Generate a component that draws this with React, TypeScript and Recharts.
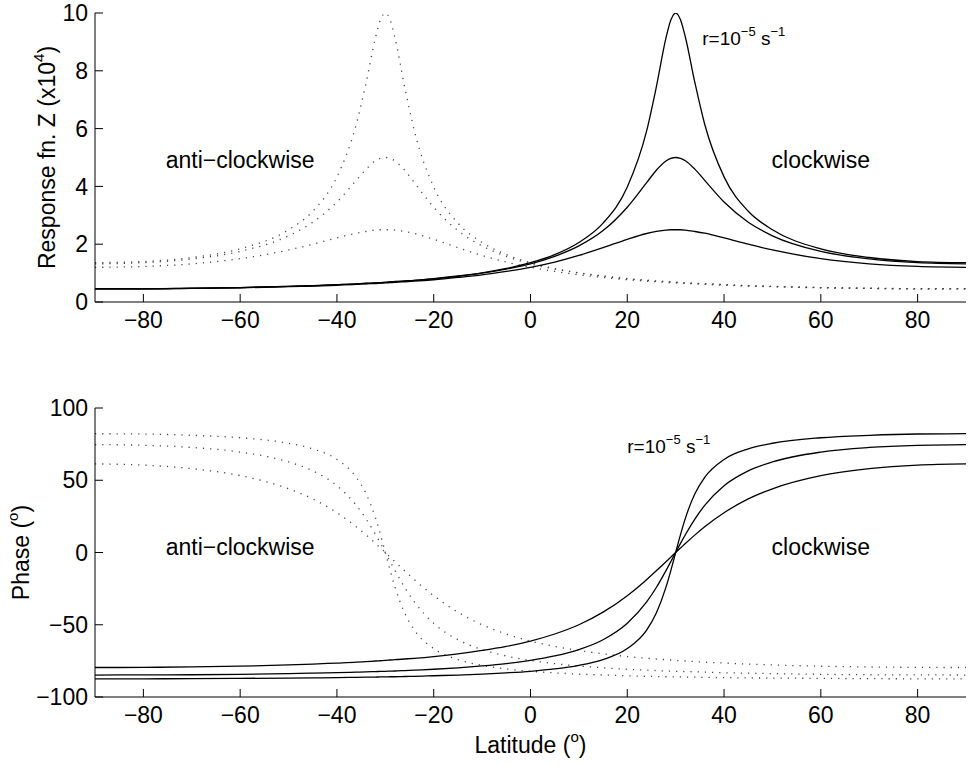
import { LineChart, Line, XAxis, YAxis, ReferenceDot, Label } from "recharts"

// latitudes (deg) the curves are sampled at
const lat = [
  -90, -80, -70, -60, -50, -45, -40, -36, -34, -32, -31, -30, -29, -28, -26, -24, -20, -15, -10, -5, 0, 5, 10, 15, 20,
  24, 26, 28, 29, 30, 31, 32, 34, 36, 40, 45, 50, 60, 70, 80, 90,
]

// response fn Z (x10^4), clockwise (solid)
const zCw1 = [
  0.46, 0.46, 0.48, 0.5, 0.54, 0.57, 0.6, 0.63, 0.65, 0.66, 0.67, 0.68, 0.7, 0.71, 0.73, 0.75, 0.81, 0.9, 1.01, 1.16, 1.36,
  1.64, 2.06, 2.73, 3.98, 5.92, 7.44, 9.14, 9.76, 10.0, 9.77, 9.17, 7.57, 6.15, 4.33, 3.14, 2.5, 1.84, 1.54, 1.4, 1.36,
]
const zCw2 = [
  0.46, 0.46, 0.47, 0.5, 0.54, 0.56, 0.6, 0.63, 0.64, 0.66, 0.67, 0.68, 0.69, 0.7, 0.72, 0.75, 0.8, 0.89, 1.0, 1.14, 1.32,
  1.58, 1.94, 2.47, 3.28, 4.13, 4.56, 4.88, 4.97, 5.0, 4.97, 4.89, 4.59, 4.21, 3.46, 2.76, 2.29, 1.75, 1.49, 1.36, 1.32,
]
const zCw3 = [
  0.45, 0.45, 0.47, 0.49, 0.53, 0.55, 0.58, 0.61, 0.63, 0.64, 0.65, 0.66, 0.67, 0.68, 0.7, 0.72, 0.77, 0.85, 0.94, 1.06,
  1.2, 1.38, 1.61, 1.88, 2.17, 2.37, 2.44, 2.49, 2.5, 2.5, 2.5, 2.49, 2.44, 2.38, 2.22, 2.0, 1.8, 1.5, 1.32, 1.23, 1.2,
]

// response fn Z (x10^4), anti-clockwise (dotted)
const zAcw1 = [
  1.36, 1.4, 1.54, 1.84, 2.5, 3.14, 4.33, 6.15, 7.57, 9.17, 9.77, 10.0, 9.76, 9.14, 7.44, 5.92, 3.98, 2.73, 2.06, 1.64,
  1.36, 1.16, 1.01, 0.9, 0.81, 0.75, 0.73, 0.71, 0.7, 0.68, 0.67, 0.66, 0.65, 0.63, 0.6, 0.57, 0.54, 0.5, 0.48, 0.46, 0.46,
]
const zAcw2 = [
  1.32, 1.36, 1.49, 1.75, 2.29, 2.76, 3.46, 4.21, 4.59, 4.89, 4.97, 5.0, 4.97, 4.88, 4.56, 4.13, 3.28, 2.47, 1.94, 1.58,
  1.32, 1.14, 1.0, 0.89, 0.8, 0.75, 0.72, 0.7, 0.69, 0.68, 0.67, 0.66, 0.64, 0.63, 0.6, 0.56, 0.54, 0.5, 0.47, 0.46, 0.46,
]
const zAcw3 = [
  1.2, 1.23, 1.32, 1.5, 1.8, 2.0, 2.22, 2.38, 2.44, 2.49, 2.5, 2.5, 2.5, 2.49, 2.44, 2.37, 2.17, 1.88, 1.61, 1.38, 1.2,
  1.06, 0.94, 0.85, 0.77, 0.72, 0.7, 0.68, 0.67, 0.66, 0.65, 0.64, 0.63, 0.61, 0.58, 0.55, 0.53, 0.49, 0.47, 0.45, 0.45,
]

// phase (deg), clockwise (solid)
const pCw1 = [
  -87.4, -87.4, -87.3, -87.1, -86.9, -86.8, -86.6, -86.4, -86.3, -86.2, -86.1, -86.1, -86.0, -86.0, -85.8, -85.7, -85.3,
  -84.8, -84.2, -83.3, -82.2, -80.6, -78.1, -74.1, -66.5, -53.7, -41.9, -24.0, -12.5, 0, 12.4, 23.6, 40.8, 52.0, 64.4,
  71.7, 75.6, 79.4, 81.1, 82.0, 82.2,
]
const pCw2 = [
  -84.8, -84.7, -84.6, -84.3, -83.8, -83.5, -83.2, -82.8, -82.6, -82.4, -82.3, -82.2, -82.1, -82.0, -81.7, -81.4, -80.8,
  -79.8, -78.5, -76.9, -74.7, -71.6, -67.2, -60.4, -49.0, -34.2, -24.2, -12.5, -6.3, 0, 6.3, 12.3, 23.3, 32.6, 46.2, 56.5,
  62.7, 69.5, 72.7, 74.2, 74.7,
]
const pCw3 = [
  -79.6, -79.5, -79.2, -78.7, -77.8, -77.2, -76.5, -75.9, -75.5, -75.1, -74.9, -74.7, -74.4, -74.2, -73.7, -73.2, -72.0,
  -70.1, -67.8, -65.0, -61.3, -56.4, -50.0, -41.3, -29.9, -18.8, -12.7, -6.4, -3.2, 0, 3.1, 6.2, 12.2, 17.8, 27.5, 37.1,
  44.1, 53.2, 58.0, 60.5, 61.3,
]

// phase (deg), anti-clockwise (dotted)
const pAcw1 = [
  82.2, 82.0, 81.1, 79.4, 75.6, 71.7, 64.4, 52.0, 40.8, 23.6, 12.4, 0, -12.5, -24.0, -41.9, -53.7, -66.5, -74.1, -78.1,
  -80.6, -82.2, -83.3, -84.2, -84.8, -85.3, -85.7, -85.8, -86.0, -86.0, -86.1, -86.1, -86.2, -86.3, -86.4, -86.6, -86.8,
  -86.9, -87.1, -87.3, -87.4, -87.4,
]
const pAcw2 = [
  74.7, 74.2, 72.7, 69.5, 62.7, 56.5, 46.2, 32.6, 23.3, 12.3, 6.3, 0, -6.3, -12.5, -24.2, -34.2, -49.0, -60.4, -67.2,
  -71.6, -74.7, -76.9, -78.5, -79.8, -80.8, -81.4, -81.7, -82.0, -82.1, -82.2, -82.3, -82.4, -82.6, -82.8, -83.2, -83.5,
  -83.8, -84.3, -84.6, -84.7, -84.8,
]
const pAcw3 = [
  61.3, 60.5, 58.0, 53.2, 44.1, 37.1, 27.5, 17.8, 12.2, 6.2, 3.1, 0, -3.2, -6.4, -12.7, -18.8, -29.9, -41.3, -50.0,
  -56.4, -61.3, -65.0, -67.8, -70.1, -72.0, -73.2, -73.7, -74.2, -74.4, -74.7, -74.9, -75.1, -75.5, -75.9, -76.5, -77.2,
  -77.8, -78.7, -79.2, -79.5, -79.6,
]

const xTicks = [-80, -60, -40, -20, 0, 20, 40, 60, 80]
const zTicks = [0, 2, 4, 6, 8, 10]
const phaseTicks = [-100, -50, 0, 50, 100]

const FONT = '"Liberation Sans", Arial, Helvetica, sans-serif'
const tickStyle = { fill: "#000", fontSize: 23, fontFamily: FONT }
const fmt = (v: number) => String(v).replace("-", "\u2212")

const zData = lat.map((x, i) => ({
  lat: x,
  cw1: zCw1[i],
  cw2: zCw2[i],
  cw3: zCw3[i],
  acw1: zAcw1[i],
  acw2: zAcw2[i],
  acw3: zAcw3[i],
}))

const phaseData = lat.map((x, i) => ({
  lat: x,
  cw1: pCw1[i],
  cw2: pCw2[i],
  cw3: pCw3[i],
  acw1: pAcw1[i],
  acw2: pAcw2[i],
  acw3: pAcw3[i],
}))

const solidKeys = ["cw1", "cw2", "cw3"]
const dottedKeys = ["acw1", "acw2", "acw3"]

function curves() {
  return [
    ...dottedKeys.map((k) => (
      <Line
        key={k}
        dataKey={k}
        type="monotone"
        stroke="#444"
        strokeWidth={1.3}
        strokeDasharray="1.2 6"
        dot={false}
        isAnimationActive={false}
      />
    )),
    ...solidKeys.map((k) => (
      <Line key={k} dataKey={k} type="monotone" stroke="#000" strokeWidth={1.3} dot={false} isAnimationActive={false} />
    )),
  ]
}

// plain text placed at a data point
const word = (text: string) => (props: any) => (
  <text
    x={props.cx}
    y={props.cy}
    textAnchor="middle"
    dominantBaseline="central"
    fontSize={23}
    fontFamily={FONT}
    fill="#000"
  >
    {text}
  </text>
)

const rLabel = (props: any) => (
  <text x={props.cx} y={props.cy} fontSize={19} fontFamily={FONT} fill="#000">
    r=10
    <tspan dy={-9} fontSize={13}>
      −5
    </tspan>
    <tspan dy={9}> s</tspan>
    <tspan dy={-9} fontSize={13}>
      −1
    </tspan>
  </text>
)

const yTitle = (text: string, sup: string, offsetX: number) => (props: any) => {
  const vb = props.viewBox
  const cx = vb.x + offsetX
  const cy = vb.y + vb.height / 2
  return (
    <text
      x={cx}
      y={cy}
      transform={`rotate(-90, ${cx}, ${cy})`}
      textAnchor="middle"
      dominantBaseline="central"
      fontSize={23}
      fontFamily={FONT}
      fill="#000"
    >
      {text}
      <tspan dy={-9} fontSize={15}>
        {sup}
      </tspan>
      <tspan dy={9}>)</tspan>
    </text>
  )
}

const xTitle = (props: any) => {
  const vb = props.viewBox
  const cx = vb.x + vb.width / 2
  const cy = vb.y + 48
  return (
    <text x={cx} y={cy} textAnchor="middle" dominantBaseline="central" fontSize={23} fontFamily={FONT} fill="#000">
      Latitude (
      <tspan dy={-9} fontSize={15}>
        o
      </tspan>
      <tspan dy={9}>)</tspan>
    </text>
  )
}

export default function App() {
  return (
    <div style={{ position: "absolute", left: 0, top: 0, width: 968, height: 766, background: "#fff" }}>
      <div style={{ position: "absolute", left: 0, top: 0 }}>
        <LineChart width={968} height={345} data={zData} margin={{ top: 13, right: 2, bottom: 0, left: 0 }}>
          <XAxis
            dataKey="lat"
            type="number"
            domain={[-90, 90]}
            ticks={xTicks}
            interval={0}
            tickFormatter={fmt}
            tick={tickStyle}
            tickSize={-8}
            tickMargin={18}
            height={43}
            stroke="#000"
            allowDataOverflow
          />
          <XAxis
            xAxisId="top"
            orientation="top"
            type="number"
            domain={[-90, 90]}
            ticks={xTicks}
            interval={0}
            tick={false}
            tickSize={-8}
            height={0}
            stroke="#000"
            allowDataOverflow
          />
          <YAxis
            type="number"
            domain={[0, 10]}
            ticks={zTicks}
            interval={0}
            tick={tickStyle}
            tickSize={-8}
            tickMargin={15}
            width={95}
            stroke="#000"
            allowDataOverflow
          >
            <Label content={yTitle("Response fn. Z (x10", "4", 47)} />
          </YAxis>
          <YAxis
            yAxisId="right"
            orientation="right"
            type="number"
            domain={[0, 10]}
            ticks={zTicks}
            interval={0}
            tick={false}
            tickSize={-8}
            width={0}
            stroke="#000"
            allowDataOverflow
          />
          {curves()}
          <ReferenceDot x={-60} y={4.9} r={0} shape={word("anti\u2212clockwise")} />
          <ReferenceDot x={60} y={4.9} r={0} shape={word("clockwise")} />
          <ReferenceDot x={35.5} y={8.9} r={0} shape={rLabel} />
        </LineChart>
      </div>
      <div style={{ position: "absolute", left: 0, top: 370 }}>
        <LineChart width={968} height={396} data={phaseData} margin={{ top: 38, right: 2, bottom: 0, left: 0 }}>
          <XAxis
            dataKey="lat"
            type="number"
            domain={[-90, 90]}
            ticks={xTicks}
            interval={0}
            tickFormatter={fmt}
            tick={tickStyle}
            tickSize={-8}
            tickMargin={18}
            height={69}
            stroke="#000"
            allowDataOverflow
          >
            <Label content={xTitle} />
          </XAxis>
          <XAxis
            xAxisId="top"
            orientation="top"
            type="number"
            domain={[-90, 90]}
            ticks={xTicks}
            interval={0}
            tick={false}
            tickSize={-8}
            height={0}
            stroke="#000"
            allowDataOverflow
          />
          <YAxis
            type="number"
            domain={[-100, 100]}
            ticks={phaseTicks}
            interval={0}
            tickFormatter={fmt}
            tick={tickStyle}
            tickSize={-8}
            tickMargin={15}
            width={95}
            stroke="#000"
            allowDataOverflow
          >
            <Label content={yTitle("Phase (", "o", 21)} />
          </YAxis>
          <YAxis
            yAxisId="right"
            orientation="right"
            type="number"
            domain={[-100, 100]}
            ticks={phaseTicks}
            interval={0}
            tick={false}
            tickSize={-8}
            width={0}
            stroke="#000"
            allowDataOverflow
          />
          {curves()}
          <ReferenceDot x={-60} y={3.8} r={0} shape={word("anti\u2212clockwise")} />
          <ReferenceDot x={60} y={3.8} r={0} shape={word("clockwise")} />
          <ReferenceDot x={20} y={69} r={0} shape={rLabel} />
        </LineChart>
      </div>
    </div>
  )
}
